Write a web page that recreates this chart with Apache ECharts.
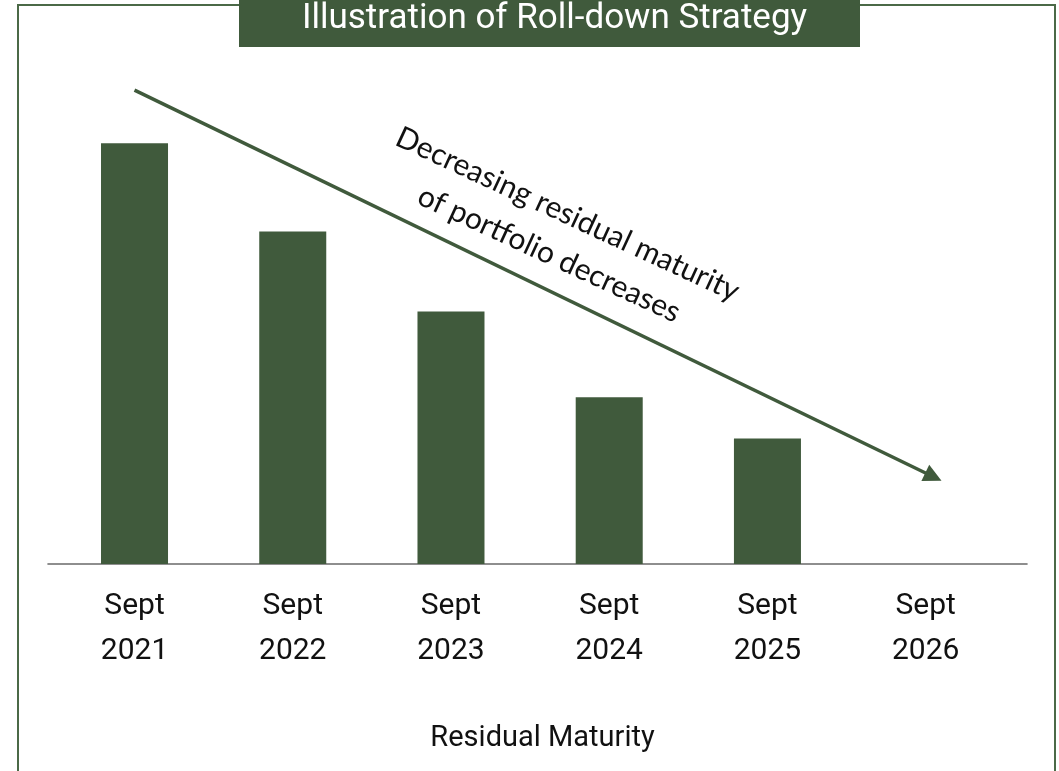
<!DOCTYPE html>
<html>
<head>
<meta charset="utf-8">
<script src="https://cdn.jsdelivr.net/npm/echarts@6/dist/echarts.min.js"></script>
<style>
  html, body { margin: 0; padding: 0; background: #ffffff; }
  #chart { width: 1059px; height: 771px; }
</style>
</head>
<body>
<div id="chart"></div>
<script>
// Residual maturity buckets and the (illustrative) portfolio maturity in each
const categories = ['Sept\n2021', 'Sept\n2022', 'Sept\n2023', 'Sept\n2024', 'Sept\n2025', 'Sept\n2026'];
const maturity = [5.0, 3.95, 3.0, 1.98, 1.49, null];

// Trend arrow, in data units: [category index, value]
const arrowFrom = [0, 5.63];
const arrowTo = [5.1, 0.99];
const arrowText = 'Decreasing residual maturity\nof portfolio decreases';

const titleText = 'Illustration of Roll-down Strategy';
const axisTitle = 'Residual Maturity';

const GREEN = '#405a3c';
const BORDER = '#4b6947';
const FONT = 'Roboto, "DejaVu Sans", sans-serif';

const chart = echarts.init(document.getElementById('chart'), null, { renderer: 'canvas' });

const option = {
  backgroundColor: '#ffffff',
  animation: false,
  title: {
    text: titleText,
    left: 549.5,
    textAlign: 'center',
    top: -3,
    textStyle: { color: '#ffffff', fontFamily: FONT, fontSize: 35, fontWeight: 'normal' },
    z: 10
  },
  grid: [
    { left: 55.4, right: 54.2, top: 59, bottom: 207 },
    { left: 48, right: 32, top: 59, bottom: 207 }
  ],
  xAxis: [
    {
      type: 'category',
      gridIndex: 0,
      data: categories,
      axisLine: { show: false },
      axisTick: { show: false },
      axisLabel: {
        color: '#111111',
        fontFamily: FONT,
        fontSize: 30,
        lineHeight: 45,
        margin: 20,
        interval: 0
      }
    },
    {
      type: 'value',
      gridIndex: 1,
      min: 0,
      max: 1,
      axisLine: { show: true, lineStyle: { color: '#6a6a6a', width: 1.6 } },
      axisTick: { show: false },
      axisLabel: { show: false },
      splitLine: { show: false },
      name: axisTitle,
      nameLocation: 'middle',
      nameGap: 160,
      nameTextStyle: { color: '#111111', fontFamily: FONT, fontSize: 29, padding: [0, 0, 0, 10] }
    }
  ],
  yAxis: [
    { type: 'value', gridIndex: 0, min: 0, max: 6, show: false },
    { type: 'value', gridIndex: 1, min: 0, max: 1, show: false }
  ],
  series: [
    {
      type: 'bar',
      xAxisIndex: 0,
      yAxisIndex: 0,
      data: maturity,
      barWidth: '42.35%',
      itemStyle: { color: GREEN },
      silent: true
    }
  ],
  graphic: []
};

chart.setOption(option);

// Place the trend arrow and its caption from data coordinates
function toPixel(p) {
  const a = chart.convertToPixel({ gridIndex: 0 }, [0, p[1]]);
  const b = chart.convertToPixel({ gridIndex: 0 }, [1, p[1]]);
  return [a[0] + (b[0] - a[0]) * p[0], a[1]];
}

const p0 = toPixel(arrowFrom);
const p1 = toPixel(arrowTo);
const dx = p1[0] - p0[0];
const dy = p1[1] - p0[1];
const len = Math.sqrt(dx * dx + dy * dy);
const ux = dx / len, uy = dy / len;     // along the arrow
const nx = uy, ny = -ux;                // normal pointing up-right
const headLen = 18, headHalf = 9;
const base = [p1[0] - ux * headLen, p1[1] - uy * headLen];
const mid = [(p0[0] + p1[0]) / 2, (p0[1] + p1[1]) / 2];
const textCenter = [mid[0] - 4 * ux + 55 * nx, mid[1] - 4 * uy + 55 * ny];
const angle = Math.atan2(dy, dx);

chart.setOption({
  graphic: [
    {
      type: 'rect',
      shape: { x: 18, y: 5, width: 1037, height: 820 },
      style: { fill: null, stroke: BORDER, lineWidth: 2 },
      z: 1,
      silent: true
    },
    {
      type: 'rect',
      shape: { x: 239, y: 0, width: 621, height: 47 },
      style: { fill: GREEN },
      z: 5,
      silent: true
    },
    {
      type: 'line',
      shape: { x1: p0[0], y1: p0[1], x2: base[0] + ux * 2, y2: base[1] + uy * 2 },
      style: { stroke: GREEN, lineWidth: 3.5 },
      z: 6,
      silent: true
    },
    {
      type: 'polygon',
      shape: {
        points: [
          p1,
          [base[0] + nx * headHalf, base[1] + ny * headHalf],
          [base[0] - nx * headHalf, base[1] - ny * headHalf]
        ]
      },
      style: { fill: GREEN },
      z: 6,
      silent: true
    },
    {
      type: 'text',
      x: textCenter[0],
      y: textCenter[1],
      rotation: -angle + 0.017,
      style: {
        text: arrowText,
        fill: '#111111',
        font: '30px Lato, "Open Sans", sans-serif',
        lineHeight: 44,
        align: 'center',
        verticalAlign: 'middle'
      },
      z: 7,
      silent: true
    }
  ]
});
</script>
</body>
</html>
